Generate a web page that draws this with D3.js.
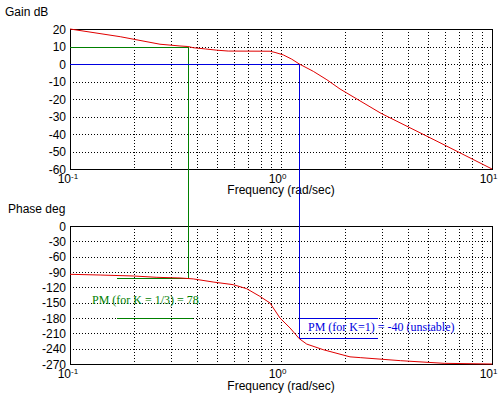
<!DOCTYPE html>
<html>
<head>
<meta charset="utf-8">
<script src="https://cdn.jsdelivr.net/npm/d3@7"></script>
<style>
  body { margin: 0; background: #fff; }
  text { font-family: "Liberation Sans", Arial, sans-serif; fill: #000; }
  .note { font-family: "Liberation Serif", "Times New Roman", serif; }
</style>
</head>
<body>
<svg id="bode" width="504" height="395"></svg>
<script>
// magnitude curve (rad/sec -> dB)
const gainFreq = [0.1, 0.173, 0.267, 0.332, 0.362, 0.384, 0.438, 0.496, 0.562, 0.887, 0.937, 1.025, 1.123, 1.221, 1.423, 1.65, 1.905, 2.98, 5.67, 10];
const gainDb   = [20, 15.6, 11.3, 10.3, 10, 9.3, 8.6, 7.9, 7.4, 7.3, 6.6, 5.2, 2.8, 0, -4.2, -9, -14.3, -28.2, -45, -60];

// phase curve (rad/sec -> deg)
const phaseFreq = [0.1, 0.139, 0.2, 0.258, 0.332, 0.384, 0.477, 0.594, 0.687, 0.794, 0.887, 0.989, 1.104, 1.221, 1.324, 1.585, 2.123, 2.388, 3.69, 5.93, 10];
const phaseDeg  = [-94.5, -95.9, -97.8, -100.4, -101.7, -103.5, -109.6, -114.8, -122.6, -137.6, -150.7, -180, -199.6, -220.5, -231, -242, -256, -257.6, -263.5, -268.7, -270];

const gainTicks = [20, 10, 0, -10, -20, -30, -40, -50, -60];
const phaseTicks = [0, -30, -60, -90, -120, -150, -180, -210, -240, -270];
const decades = [-1, 0, 1];

// phase margin markers: crossover freq, gain level, phase at crossover, note extent
const pmK3 = { w: 0.362, gain: 10, phase: -102, w0: 0.165, w1: 0.378, label: "PM (for K = 1/3) = 78" };
const pmK1 = { w: 1.221, gain: 0, phase: -220, w0: 1.221, w1: 2.842, label: "PM (for K=1) = -40 (unstable)" };

const svg = d3.select("#bode");
const x = d3.scaleLog().domain([0.1, 10]).range([70, 492]);
const yGain = d3.scaleLinear().domain([-60, 20]).range([169, 29]);
const yPhase = d3.scaleLinear().domain([-270, 0]).range([364, 226]);

const xGrid = x.ticks().filter(d => d > 0.1 && d < 10);

function panel(y, ticks, title, titleX, titleY, tickY, freqY) {
    const g = svg.append("g").attr("shape-rendering", "crispEdges");
    const [y0, y1] = y.range();
    // dotted grid
    g.selectAll(".gx").data(xGrid).join("line")
        .attr("x1", d => Math.round(x(d)) + 0.5).attr("x2", d => Math.round(x(d)) + 0.5)
        .attr("y1", y1).attr("y2", y0)
        .attr("stroke", "#000").attr("stroke-dasharray", "1,2");
    g.selectAll(".gy").data(ticks.slice(1, -1)).join("line")
        .attr("x1", 70).attr("x2", 492)
        .attr("y1", d => Math.round(y(d)) + 0.5).attr("y2", d => Math.round(y(d)) + 0.5)
        .attr("stroke", "#000").attr("stroke-dasharray", "1,2");
    // box
    g.append("rect").attr("x", 70.5).attr("y", y1 + 0.5)
        .attr("width", 422).attr("height", y0 - y1)
        .attr("fill", "none").attr("stroke", "#000");
    // y tick labels
    svg.selectAll(null).data(ticks).join("text")
        .attr("x", 66).attr("y", d => y(d) + 4.5)
        .attr("text-anchor", "end").attr("font-size", 12)
        .text(d => d);
    // x tick labels 10^n
    svg.selectAll(null).data(decades).join("text")
        .attr("x", d => x(Math.pow(10, d)) + 1).attr("y", tickY)
        .attr("text-anchor", "end").attr("font-size", 12)
        .text("10");
    svg.selectAll(null).data(decades).join("text")
        .attr("x", d => x(Math.pow(10, d)) + 1).attr("y", tickY - 4)
        .attr("font-size", 8)
        .text(d => d);
    svg.append("text").attr("x", 281).attr("y", freqY)
        .attr("text-anchor", "middle").attr("font-size", 12)
        .text("Frequency (rad/sec)");
    svg.append("text").attr("x", titleX).attr("y", titleY)
        .attr("font-size", 12).text(title);
}

panel(yGain, gainTicks, "Gain dB", 5, 16, 183, 194);
panel(yPhase, phaseTicks, "Phase deg", 8, 213, 378, 390);

const marks = svg.append("g").attr("shape-rendering", "crispEdges").attr("fill", "none");
const px = v => Math.round(v) + 0.5;

// K = 1/3 marker (green)
const green = "#008000";
marks.append("line").attr("x1", 70).attr("x2", px(x(pmK3.w)))
    .attr("y1", px(yGain(pmK3.gain))).attr("y2", px(yGain(pmK3.gain))).attr("stroke", green);
marks.append("line").attr("x1", px(x(pmK3.w))).attr("x2", px(x(pmK3.w)))
    .attr("y1", px(yGain(pmK3.gain))).attr("y2", px(yPhase(pmK3.phase))).attr("stroke", green);
marks.append("line").attr("x1", px(x(pmK3.w0))).attr("x2", px(x(pmK3.w)))
    .attr("y1", px(yPhase(pmK3.phase))).attr("y2", px(yPhase(pmK3.phase))).attr("stroke", green);
marks.append("line").attr("x1", px(x(pmK3.w0))).attr("x2", px(x(pmK3.w1)))
    .attr("y1", px(yPhase(-180))).attr("y2", px(yPhase(-180))).attr("stroke", green);

// K = 1 marker (blue)
const blue = "#0000e0";
marks.append("line").attr("x1", 70).attr("x2", px(x(pmK1.w)))
    .attr("y1", px(yGain(pmK1.gain))).attr("y2", px(yGain(pmK1.gain))).attr("stroke", blue);
marks.append("line").attr("x1", px(x(pmK1.w))).attr("x2", px(x(pmK1.w)))
    .attr("y1", px(yGain(pmK1.gain))).attr("y2", px(yPhase(pmK1.phase))).attr("stroke", blue);
marks.append("line").attr("x1", px(x(pmK1.w0))).attr("x2", px(x(pmK1.w1)))
    .attr("y1", px(yPhase(-180))).attr("y2", px(yPhase(-180))).attr("stroke", blue);
marks.append("line").attr("x1", px(x(pmK1.w0))).attr("x2", px(x(pmK1.w1)))
    .attr("y1", px(yPhase(pmK1.phase))).attr("y2", px(yPhase(pmK1.phase))).attr("stroke", blue);

// curves
const red = "#e00000";
const gainLine = d3.line().x(d => x(d[0])).y(d => yGain(d[1]));
const phaseLine = d3.line().x(d => x(d[0])).y(d => yPhase(d[1]));
svg.append("path").datum(d3.zip(gainFreq, gainDb))
    .attr("d", gainLine).attr("fill", "none").attr("stroke", red);
svg.append("path").datum(d3.zip(phaseFreq, phaseDeg))
    .attr("d", phaseLine).attr("fill", "none").attr("stroke", red);

// notes
svg.append("text").attr("class", "note").attr("x", 92).attr("y", 304)
    .attr("font-size", 12).style("fill", green).text(pmK3.label);
svg.append("text").attr("class", "note").attr("x", 308).attr("y", 331)
    .attr("font-size", 12).style("fill", blue).text(pmK1.label);
</script>
</body>
</html>
